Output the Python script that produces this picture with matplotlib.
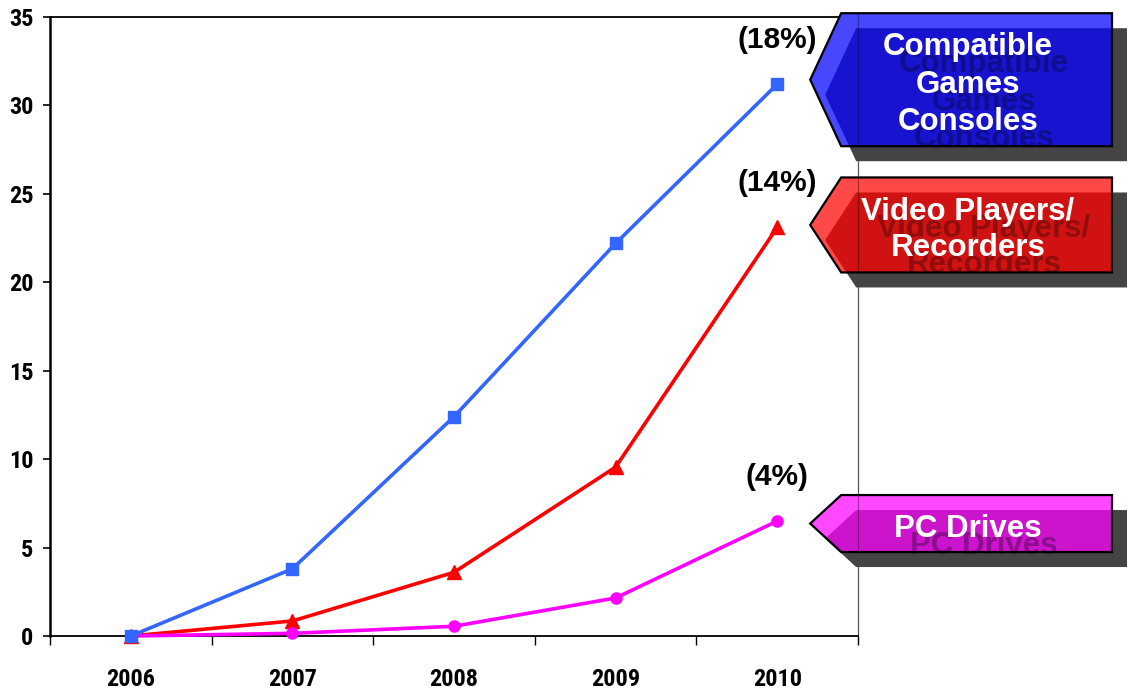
import matplotlib
matplotlib.use("Agg")
import matplotlib.pyplot as plt
from matplotlib import font_manager
from matplotlib.font_manager import FontProperties
from matplotlib.patches import Polygon

# ---- data ----
years = ["2006", "2007", "2008", "2009", "2010"]
consoles = [0.0, 3.8, 12.4, 22.2, 31.2]
video = [0.0, 0.85, 3.6, 9.55, 23.1]
pc_drives = [0.0, 0.15, 0.55, 2.15, 6.5]
shares = ["(18%)", "(14%)", "(4%)"]
names = ["Compatible\nGames\nConsoles", "Video Players/\nRecorders", "PC Drives"]
yticks = [0, 5, 10, 15, 20, 25, 30, 35]

W, H = 1128, 691
fig = plt.figure(figsize=(W / 100, H / 100), dpi=100)
fig.patch.set_facecolor("white")


def narrow_bold_font():
    """Pick a narrow bold face for the axis numbers if one is installed."""
    wanted = ["liberationsansnarrow-bold.", "robotocondensed-bold.",
              "arialnarrowbold", "arialnb."]
    for key in wanted:
        for f in font_manager.fontManager.ttflist:
            if key in f.fname.lower().replace("_", "").replace(" ", ""):
                return FontProperties(fname=f.fname, size=17.5), True
    return FontProperties(family="Liberation Sans", weight="bold", size=16.5), False


tick_fp, is_narrow = narrow_bold_font()
bold_family = "Liberation Sans"

ax = fig.add_axes([50 / W, (H - 636) / H, (858 - 50) / W, (636 - 17) / H])
x = list(range(len(years)))

series = [
    (video, "#ff0000", "^", 9.5, 2),
    (pc_drives, "#ff00ff", "o", 8.0, 3),
    (consoles, "#3366ff", "s", 8.6, 4),
]
for vals, col, mk, ms, z in series:
    ax.plot(x, vals, color=col, lw=2.6, marker=mk, ms=ms, mec=col, mfc=col,
            zorder=z, clip_on=False)

ax.set_xlim(-0.5, len(years) - 0.5)
ax.set_ylim(0, 35)
ax.set_yticks(yticks)
ax.set_yticklabels([str(v) for v in yticks])
ax.set_xticks(x)
ax.set_xticklabels(years)
ax.set_xticks([i - 0.5 for i in range(len(years) + 1)], minor=True)

ax.tick_params(axis="y", which="major", direction="out", length=5, width=1.2, pad=7,
               colors="black")
ax.tick_params(axis="x", which="major", length=0, pad=23)
ax.tick_params(axis="x", which="minor", direction="out", length=6.5, width=1.0)
for lab in ax.get_xticklabels() + ax.get_yticklabels():
    lab.set_fontproperties(tick_fp)
    if not is_narrow:
        lab.set_fontweight("bold")

ax.spines["left"].set_linewidth(1.8)
ax.spines["left"].set_color("black")
ax.spines["bottom"].set_linewidth(1.3)
ax.spines["bottom"].set_color("black")
ax.spines["top"].set_linewidth(1.3)
ax.spines["top"].set_color("black")
ax.spines["right"].set_linewidth(0.9)
ax.spines["right"].set_color("#555555")

# share labels above the 2010 points
last_vals = [consoles[-1], video[-1], pc_drives[-1]]
for txt, v in zip(shares, last_vals):
    ax.annotate(txt, (x[-1], v), xytext=(0, 32), textcoords="offset points",
                ha="center", va="center", fontsize=21.5, fontweight="bold",
                family=bold_family, color="black", zorder=6)

# ---- callout arrows, drawn in pixel space ----
ov = fig.add_axes([0, 0, 1, 1], zorder=10)
ov.set_xlim(0, W)
ov.set_ylim(0, H)
ov.axis("off")
ov.patch.set_alpha(0)

fig.canvas.draw()
spine_x = ax.get_window_extent().x1

boxes = [
    # (value, vertical nudge, half height, face, light, text line spacing)
    (consoles[-1], 4.5, 66.5, "#1713cf", "#4747ff", 1.32),
    (video[-1], 2.5, 47.5, "#d01212", "#ff4848", 1.25),
    (pc_drives[-1], -2.5, 28.5, "#cc14cc", "#ff48ff", 1.0),
]
shift = 15
right_edge = 1112
for (v, nudge, hh, face, light, lsp), name in zip(boxes, names):
    px, py = ax.transData.transform((x[-1], v))
    tip_x = px + 33
    cy = py + nudge
    base_x = tip_x + 31
    outer = [(tip_x, cy), (base_x, cy + hh), (right_edge, cy + hh),
             (right_edge, cy - hh), (base_x, cy - hh)]
    shadow = [(a + shift, b - shift) for a, b in outer]
    ov.add_patch(Polygon(shadow, closed=True, fc="#444444", ec="none", zorder=1))
    outer_patch = Polygon(outer, closed=True, fc=light, ec="none", zorder=2)
    ov.add_patch(outer_patch)
    inner = Polygon(shadow, closed=True, fc=face, ec="none", zorder=3)
    ov.add_patch(inner)
    inner.set_clip_path(outer_patch)
    tcx = 968
    ty = cy - 5
    sh = ov.text(tcx + 16, ty - 17, name, ha="center", va="center", fontsize=22.5,
                 fontweight="bold", family=bold_family, color="black", alpha=0.3,
                 linespacing=lsp, zorder=4)
    sh.set_clip_path(outer_patch)
    ln, = ov.plot([spine_x, spine_x], [cy - hh, cy + hh], color="black", lw=0.9,
                  alpha=0.35, zorder=4)
    ln.set_clip_path(outer_patch)
    ov.add_patch(Polygon(outer, closed=True, fc="none", ec="black", lw=1.6,
                         joinstyle="miter", zorder=5))
    ov.text(tcx, ty, name, ha="center", va="center", fontsize=22.5,
            fontweight="bold", family=bold_family, color="white",
            linespacing=lsp, zorder=6)

fig.savefig("out.png", dpi=100, facecolor="white")
